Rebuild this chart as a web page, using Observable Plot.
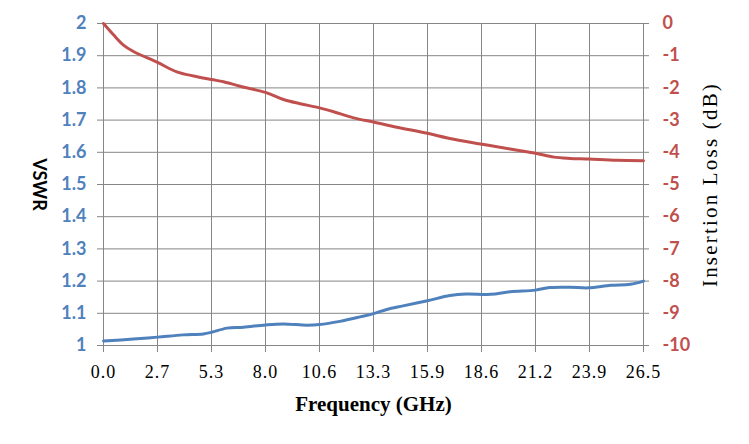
<!DOCTYPE html>
<html>
<head>
<meta charset="utf-8">
<script src="https://cdn.jsdelivr.net/npm/d3@7"></script>
<script src="https://cdn.jsdelivr.net/npm/@observablehq/plot@0.6"></script>
<style>
  html, body { margin: 0; padding: 0; background: #fff; }
  #chart svg { display: block; }
</style>
</head>
<body>
<div id="chart"></div>
<script>
// Frequency (GHz) sample points and values
const freqLoss = [0, 0.49, 0.98, 1.47, 2.65, 3.6, 4.42, 5.3, 5.89, 6.71, 7.95, 8.83, 9.65, 10.6, 11.29, 12.27, 13.25, 14.4, 15.9, 17.0, 18.5, 19.96, 21.2, 22.1, 22.9, 23.8, 25.2, 26.5];
const insertionLoss = [0, -0.35, -0.67, -0.87, -1.21, -1.50, -1.63, -1.74, -1.81, -1.95, -2.14, -2.36, -2.49, -2.62, -2.74, -2.93, -3.06, -3.22, -3.41, -3.57, -3.74, -3.90, -4.03, -4.15, -4.19, -4.21, -4.25, -4.26];

const freqVswr = [0, 1.47, 2.65, 3.9, 4.9, 5.3, 6.06, 6.87, 7.95, 8.83, 9.98, 10.6, 11.6, 12.6, 13.25, 13.9, 14.7, 15.9, 17.0, 17.8, 19.0, 19.96, 21.2, 21.9, 22.9, 23.8, 24.9, 25.85, 26.5];
const vswr = [1.014, 1.02, 1.026, 1.033, 1.036, 1.041, 1.054, 1.057, 1.064, 1.067, 1.063, 1.065, 1.075, 1.089, 1.099, 1.112, 1.123, 1.139, 1.155, 1.16, 1.159, 1.167, 1.172, 1.18, 1.181, 1.179, 1.187, 1.19, 1.2];

// Axis ticks and labels
const xTicks = [0, 2.65, 5.3, 7.95, 10.6, 13.25, 15.9, 18.55, 21.2, 23.85, 26.5];
const xTickLabels = ["0.0", "2.7", "5.3", "8.0", "10.6", "13.3", "15.9", "18.6", "21.2", "23.9", "26.5"];
const yTicks = [1, 1.1, 1.2, 1.3, 1.4, 1.5, 1.6, 1.7, 1.8, 1.9, 2];
const leftTickLabels = ["1", "1.1", "1.2", "1.3", "1.4", "1.5", "1.6", "1.7", "1.8", "1.9", "2"];
const rightTickLabels = ["-10", "-9", "-8", "-7", "-6", "-5", "-4", "-3", "-2", "-1", "0"];
// right axis domain (dB) matched to left axis domain (VSWR)
const lossDomain = [-10, 0];
const vswrDomain = [1, 2];

const toVswrSpace = d3.scaleLinear().domain(lossDomain).range(vswrDomain);

const vswrRows = freqVswr.map((f, i) => ({f, v: vswr[i]}));
const lossRows = freqLoss.map((f, i) => ({f, v: toVswrSpace(insertionLoss[i])}));

const grid = "#868686";
const blue = "#4F81BD";
const red = "#C0504D";
const serif = "Liberation Serif, DejaVu Serif, serif";
const sans = "Lato, Liberation Sans, sans-serif";

const chart = Plot.plot({
  width: 749,
  height: 444,
  marginLeft: 103,
  marginRight: 106,
  marginTop: 23,
  marginBottom: 99,
  style: {background: "#fff", overflow: "visible"},
  x: {domain: [0, 26.5]},
  y: {domain: vswrDomain},
  marks: [
    Plot.gridX(xTicks, {stroke: grid, strokeOpacity: 1, strokeWidth: 1}),
    Plot.gridY(yTicks, {stroke: grid, strokeOpacity: 1, strokeWidth: 1}),
    Plot.axisX(xTicks, {
      tickSize: 7, tickPadding: 13, stroke: grid, fill: "#000",
      tickFormat: d => xTickLabels[xTicks.indexOf(d)],
      fontFamily: serif, fontSize: 18, label: null
    }),
    Plot.axisY(yTicks, {
      anchor: "left", tickSize: 6, tickPadding: 11, stroke: grid, fill: blue,
      tickFormat: d => leftTickLabels[yTicks.indexOf(d)],
      fontFamily: sans, fontWeight: "bold", fontSize: 18, label: null
    }),
    Plot.axisY(yTicks, {
      anchor: "right", tickSize: 5, tickPadding: 14, stroke: grid, fill: red,
      tickFormat: d => rightTickLabels[yTicks.indexOf(d)],
      fontFamily: sans, fontWeight: "bold", fontSize: 18, label: null
    }),
    Plot.line(vswrRows, {x: "f", y: "v", stroke: blue, strokeWidth: 3, curve: "catmull-rom"}),
    Plot.line(lossRows, {x: "f", y: "v", stroke: red, strokeWidth: 3, curve: "catmull-rom"}),
    Plot.text(["Frequency (GHz)"], {
      text: d => d, frameAnchor: "bottom", dy: 65, textAnchor: "middle",
      fontFamily: serif, fontWeight: "bold", fontSize: 21, fill: "#000"
    }),
    Plot.text(["VSWR"], {
      text: d => d, frameAnchor: "left", dx: -65, rotate: 90, textAnchor: "middle",
      fontFamily: sans, fontWeight: "bold", fontSize: 18, fill: "#000"
    }),
    Plot.text(["Insertion Loss (dB)"], {
      text: d => d, frameAnchor: "right", dx: 67, rotate: -90, textAnchor: "middle",
      fontFamily: serif, fontSize: 21, fill: "#000"
    })
  ]
});

// letter spacing to imitate the wide, fixed-pitch label font of the original
const svg = d3.select(chart);
svg.selectAll("g[aria-label='x-axis tick label'] text").style("letter-spacing", "1px");
svg.selectAll("text").filter(function () { return this.textContent === "Insertion Loss (dB)"; })
  .style("letter-spacing", "2.2px");

document.getElementById("chart").appendChild(chart);
</script>
</body>
</html>
